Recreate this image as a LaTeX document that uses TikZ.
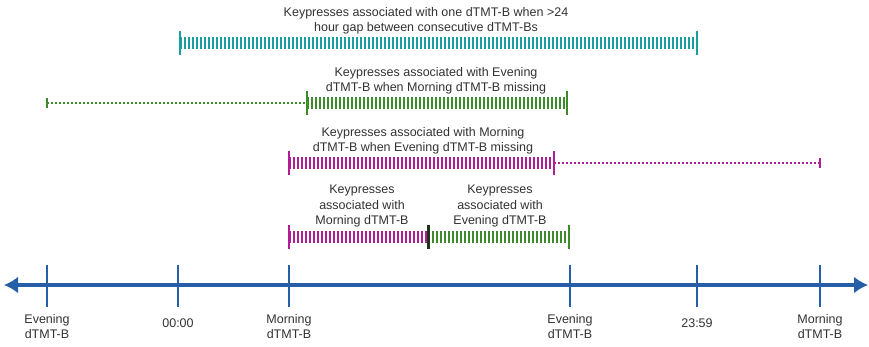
\documentclass[tikz,border=0pt]{standalone}
\usepackage{fontspec}
\setmainfont{Liberation Sans}
\usetikzlibrary{arrows.meta}
\definecolor{axisblue}{RGB}{38,94,168}
\definecolor{teal}{RGB}{28,158,158}
\definecolor{leafgreen}{RGB}{60,138,44}
\definecolor{plum}{RGB}{176,28,152}
\definecolor{txtgray}{RGB}{50,50,50}
\begin{document}
\begin{tikzpicture}[x=1pt,y=-1pt,
  timeline/.style={draw=axisblue, line width=3.5pt,
    {Latex[length=14pt,width=17pt]}-{Latex[length=14pt,width=17pt]}},
  tickmark/.style={draw=axisblue, line width=2.5pt},
  hatch/.style={line width=12pt, dash pattern=on 2pt off 2pt},
  endcap/.style={line width=2.5pt},
  dots/.style={line width=1.5pt, dash pattern=on 2pt off 2pt},
  lbl/.style={text=txtgray, font=\fontsize{12.5}{15.5}\selectfont, align=center, inner sep=0pt}]
\useasboundingbox (0,0) rectangle (869,347);

% time axis
\coordinate (axL) at (4,285);
\coordinate (axR) at (868,285);
\draw[timeline] (axL) -- (axR);
\foreach \n/\x in {eve1/47, mid0/178, morn1/289, eve2/570, mid1/697, morn2/820}{
  \coordinate (\n) at (\x,285);
  \draw[tickmark] ([yshift=-22pt]\n) -- ([yshift=20pt]\n);
}
\node[lbl, anchor=north] (leve1) at (47,314) {Evening\\dTMT-B};
\node[lbl, anchor=north] (lmid0) at (178,319) {00:00};
\node[lbl, anchor=north] (lmorn1) at (289,314) {Morning\\dTMT-B};
\node[lbl, anchor=north] (leve2) at (570,314) {Evening\\dTMT-B};
\node[lbl, anchor=north] (lmid1) at (697,319) {23:59};
\node[lbl, anchor=north] (lmorn2) at (820,314) {Morning\\dTMT-B};

% one dTMT-B spanning a >24 h gap
\coordinate (tA) at (180,43);
\coordinate (tB) at (697,43);
\draw[teal, hatch] (tA) -- (tB);
\draw[teal, endcap] ([yshift=-12pt]tA) -- ([yshift=12pt]tA);
\draw[teal, endcap] ([yshift=-12pt]tB) -- ([yshift=12pt]tB);
\node[lbl] (ttext) at (426,21) {Keypresses associated with one dTMT-B when >24\\hour gap between consecutive dTMT-Bs};

% evening dTMT-B with morning missing
\coordinate (gS) at (47,103);
\coordinate (gA) at (307,103);
\coordinate (gB) at (567,103);
\draw[leafgreen, dots] (gS) -- (gA);
\draw[leafgreen, line width=1.2pt] ([yshift=-5pt]gS) -- ([yshift=5pt]gS);
\draw[leafgreen, hatch] (gA) -- (gB);
\draw[leafgreen, endcap] ([yshift=-12pt]gA) -- ([yshift=12pt]gA);
\draw[leafgreen, endcap] ([yshift=-12pt]gB) -- ([yshift=12pt]gB);
\node[lbl] (gtext) at (436,81) {Keypresses associated with Evening\\dTMT-B when Morning dTMT-B missing};

% morning dTMT-B with evening missing
\coordinate (mA) at (289,163);
\coordinate (mB) at (554,163);
\coordinate (mE) at (820,163);
\draw[plum, hatch] (mA) -- (mB);
\draw[plum, dots] (mB) -- (mE);
\draw[plum, endcap] ([yshift=-12pt]mA) -- ([yshift=12pt]mA);
\draw[plum, endcap] ([yshift=-12pt]mB) -- ([yshift=12pt]mB);
\draw[plum, line width=1.2pt] ([yshift=-5pt]mE) -- ([yshift=5pt]mE);
\node[lbl] (mtext) at (423,141) {Keypresses associated with Morning\\dTMT-B when Evening dTMT-B missing};

% morning and evening dTMT-B split
\coordinate (sA) at (289,237);
\coordinate (sM) at (428,237);
\coordinate (sB) at (569,237);
\draw[plum, hatch] (sA) -- (sM);
\draw[leafgreen, hatch] (sM) -- (sB);
\draw[plum, endcap] ([yshift=-12pt]sA) -- ([yshift=12pt]sA);
\draw[black!60!leafgreen, line width=3pt] ([yshift=-12pt]sM) -- ([yshift=12pt]sM);
\draw[leafgreen, endcap] ([yshift=-12pt]sB) -- ([yshift=12pt]sB);
\node[lbl] (stextM) at (362,206) {Keypresses\\associated with\\Morning dTMT-B};
\node[lbl] (stextE) at (500,206) {Keypresses\\associated with\\Evening dTMT-B};
\end{tikzpicture}
\end{document}
